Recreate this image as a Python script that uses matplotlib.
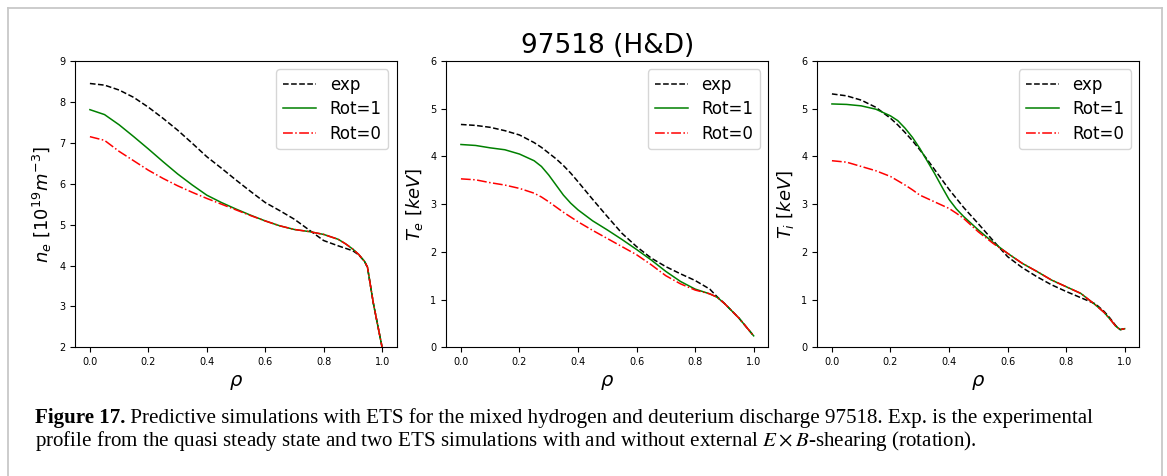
import matplotlib
matplotlib.use("Agg")
import matplotlib.pyplot as plt
from matplotlib.lines import Line2D

# ---------------- data ----------------
rho_ne = [0.0, 0.05, 0.1, 0.15, 0.2, 0.25, 0.3, 0.35, 0.4, 0.45, 0.5, 0.55, 0.6,
          0.65, 0.7, 0.75, 0.8, 0.85, 0.875, 0.9, 0.92, 0.94, 0.95, 0.97, 1.0]
ne_exp  = [8.45, 8.41, 8.29, 8.11, 7.87, 7.60, 7.31, 6.99, 6.66, 6.38, 6.09, 5.81, 5.54,
           5.34, 5.13, 4.87, 4.61, 4.48, 4.42, 4.36, 4.26, 4.10, 3.95, 3.08, 2.0]
ne_rot1 = [7.81, 7.69, 7.44, 7.15, 6.85, 6.54, 6.24, 5.97, 5.72, 5.54, 5.38, 5.23, 5.09,
           4.97, 4.88, 4.83, 4.76, 4.64, 4.53, 4.40, 4.27, 4.10, 3.96, 3.08, 2.0]
ne_rot0 = [7.15, 7.06, 6.79, 6.56, 6.33, 6.13, 5.95, 5.79, 5.64, 5.50, 5.36, 5.22, 5.09,
           4.97, 4.88, 4.83, 4.76, 4.64, 4.53, 4.40, 4.27, 4.10, 3.96, 3.08, 2.0]

rho_te = [0.0, 0.05, 0.1, 0.15, 0.2, 0.25, 0.275, 0.3, 0.325, 0.35, 0.375, 0.4, 0.45,
          0.5, 0.55, 0.6, 0.65, 0.7, 0.75, 0.8, 0.85, 0.875, 0.9, 0.95, 1.0]
te_exp  = [4.67, 4.65, 4.61, 4.54, 4.45, 4.29, 4.19, 4.07, 3.95, 3.81, 3.65, 3.47, 3.10,
           2.74, 2.39, 2.11, 1.87, 1.69, 1.54, 1.40, 1.22, 1.06, 0.92, 0.61, 0.24]
te_rot1 = [4.25, 4.23, 4.18, 4.14, 4.05, 3.91, 3.79, 3.61, 3.40, 3.19, 3.02, 2.88, 2.65,
           2.46, 2.26, 2.05, 1.83, 1.59, 1.38, 1.22, 1.12, 1.05, 0.92, 0.61, 0.24]
te_rot0 = [3.53, 3.51, 3.45, 3.40, 3.33, 3.23, 3.15, 3.05, 2.94, 2.83, 2.73, 2.63, 2.45,
           2.28, 2.11, 1.94, 1.73, 1.50, 1.33, 1.20, 1.12, 1.05, 0.92, 0.61, 0.24]

rho_ti = [0.0, 0.05, 0.1, 0.15, 0.2, 0.225, 0.25, 0.275, 0.3, 0.325, 0.35, 0.375, 0.4,
          0.425, 0.45, 0.5, 0.55, 0.6, 0.65, 0.7, 0.75, 0.8, 0.85, 0.9, 0.93, 0.95,
          0.97, 0.985, 1.0]
ti_exp  = [5.31, 5.27, 5.18, 5.03, 4.80, 4.66, 4.50, 4.33, 4.14, 3.94, 3.73, 3.52, 3.31,
           3.12, 2.93, 2.59, 2.24, 1.90, 1.67, 1.48, 1.31, 1.17, 1.04, 0.91, 0.75, 0.61,
           0.45, 0.37, 0.39]
ti_rot1 = [5.10, 5.09, 5.06, 4.99, 4.85, 4.75, 4.59, 4.40, 4.17, 3.91, 3.65, 3.37, 3.10,
           2.90, 2.74, 2.46, 2.20, 1.97, 1.76, 1.59, 1.41, 1.27, 1.13, 0.89, 0.73, 0.59,
           0.44, 0.37, 0.39]
ti_rot0 = [3.91, 3.88, 3.79, 3.70, 3.58, 3.49, 3.40, 3.30, 3.19, 3.12, 3.05, 2.98, 2.91,
           2.81, 2.70, 2.42, 2.18, 1.97, 1.76, 1.59, 1.41, 1.27, 1.13, 0.89, 0.73, 0.59,
           0.44, 0.37, 0.39]

series_labels = ["exp", "Rot=1", "Rot=0"]
ylabels = [r"$n_e\ [10^{19}m^{-3}]$", r"$T_e\ [keV]$", r"$T_i\ [keV]$"]
ylims = [(2, 9), (0, 6), (0, 6)]
xticks = [0.0, 0.2, 0.4, 0.6, 0.8, 1.0]
title = "97518 (H&D)"
caption_bold = "Figure 17."
caption_line1 = (" Predictive simulations with ETS for the mixed hydrogen and deuterium "
                 "discharge 97518. Exp. is the experimental")
caption_line2 = ("profile from the quasi steady state and two ETS simulations with and "
                 r"without external $E\times B$-shearing (rotation).")

# ---------------- figure ----------------
W, H = 1167, 476
fig = plt.figure(figsize=(W / 100, H / 100), dpi=100)


def px_rect(l, t, r, b):
    return [l / W, 1 - b / H, (r - l) / W, (b - t) / H]


# border of the figure box
for xs, ys in [([7.5, 7.5], [476, 7.5]), ([7.5, 1161.5], [7.5, 7.5]),
               ([1161.5, 1161.5], [7.5, 476])]:
    fig.add_artist(Line2D([x / W for x in xs], [1 - y / H for y in ys],
                          color="#c8c8c8", lw=1.3, transform=fig.transFigure))

panels = [
    (px_rect(75.3, 61, 396.7, 347.3), rho_ne, ne_exp, ne_rot1, ne_rot0),
    (px_rect(446.3, 61, 768.3, 347.3), rho_te, te_exp, te_rot1, te_rot0),
    (px_rect(817.3, 61, 1139.3, 347.3), rho_ti, ti_exp, ti_rot1, ti_rot0),
]

for i, (rect, x, e, r1, r0) in enumerate(panels):
    ax = fig.add_axes(rect)
    ax.plot(x, e, "k--", lw=1.1, label=series_labels[0])
    ax.plot(x, r1, "g-", lw=1.1, label=series_labels[1])
    ax.plot(x, r0, "r-.", lw=1.1, label=series_labels[2])
    ax.set_ylim(*ylims[i])
    ax.set_xticks(xticks)
    ax.tick_params(labelsize=7)
    ax.set_xlabel(r"$\rho$", fontsize=14)
    ax.set_ylabel(ylabels[i], fontsize=13)
    ax.legend(loc="upper right", fontsize=12, labelspacing=0.38)
    if i == 1:
        ax.set_title(title, fontsize=19)

# ---------------- caption ----------------
renderer = fig.canvas.get_renderer()
fs0 = 14
x0 = 35 / W
y1 = 1 - 423 / H
y2 = 1 - 446 / H
tb = fig.text(x0, y1, caption_bold, fontsize=fs0, fontweight="bold",
              family="Liberation Serif", va="baseline")
tr = fig.text(x0, y1, caption_line1, fontsize=fs0,
              family="Liberation Serif", va="baseline")
wb = tb.get_window_extent(renderer).width
wr = tr.get_window_extent(renderer).width
fs = fs0 * 1057 / (wb + wr)
tb.set_fontsize(fs)
tr.set_fontsize(fs)
wb = tb.get_window_extent(renderer).width
tr.set_x(x0 + wb / W)
fig.text(x0, y2, caption_line2, fontsize=fs, family="Liberation Serif",
         math_fontfamily="stix", va="baseline")

fig.savefig("out.png", dpi=100)
